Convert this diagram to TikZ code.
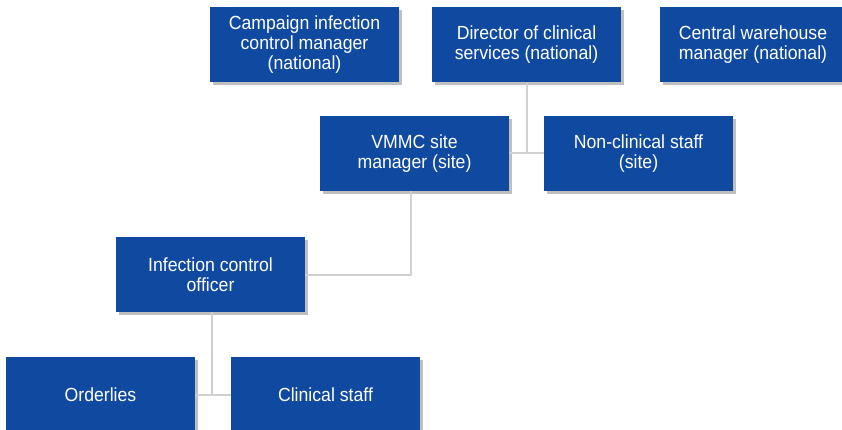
\documentclass[tikz,border=0pt]{standalone}
\usepackage{fontspec}
\setmainfont[FakeStretch=0.93]{Liberation Sans}
\usetikzlibrary{shadows}
\definecolor{orgblue}{RGB}{16,74,160}
\definecolor{linkgray}{RGB}{208,208,208}

\begin{document}
\begin{tikzpicture}[x=1pt,y=-1pt,
		post/.style={rectangle, fill=orgblue, text=white, minimum width=189pt, minimum height=75pt, align=center, font=\fontsize{19}{20}\selectfont, inner sep=0pt, drop shadow={shadow xshift=3pt, shadow yshift=-3pt, opacity=0.25, fill=black}},
		link/.style={draw=linkgray, line width=2pt}]
			\useasboundingbox (0,0) rectangle (842,430);
			\node[post] (camp) at (304.5,45) {Campaign infection\\control manager\\(national)};
			\node[post] (dir) at (526.5,45) {Director of clinical\\services (national)};
			\node[post, minimum width=186pt] (cen) at (753,45) {Central warehouse\\manager (national)};
			\node[post] (vmmc) at (414.5,153.5) {VMMC site\\manager (site)};
			\node[post] (nonc) at (638.5,153.5) {Non-clinical staff\\(site)};
			\node[post] (ico) at (210.5,274.5) {Infection control\\officer};
			\node[post] (ord) at (100.5,394.5) {Orderlies};
			\node[post] (clin) at (325.5,394.5) {Clinical staff};
			\draw[link] (dir.south) -- (dir.south |- vmmc.east);
			\draw[link] (vmmc.east) -- (nonc.west);
			\draw[link] ([xshift=-4pt]vmmc.south) -- ([xshift=-4pt]vmmc.south |- ico.east) -- (ico.east);
			\draw[link] ([xshift=1pt]ico.south) -- ([xshift=1pt]ico.south |- ord.east);
			\draw[link] (ord.east) -- (clin.west);
\end{tikzpicture}
\end{document}
